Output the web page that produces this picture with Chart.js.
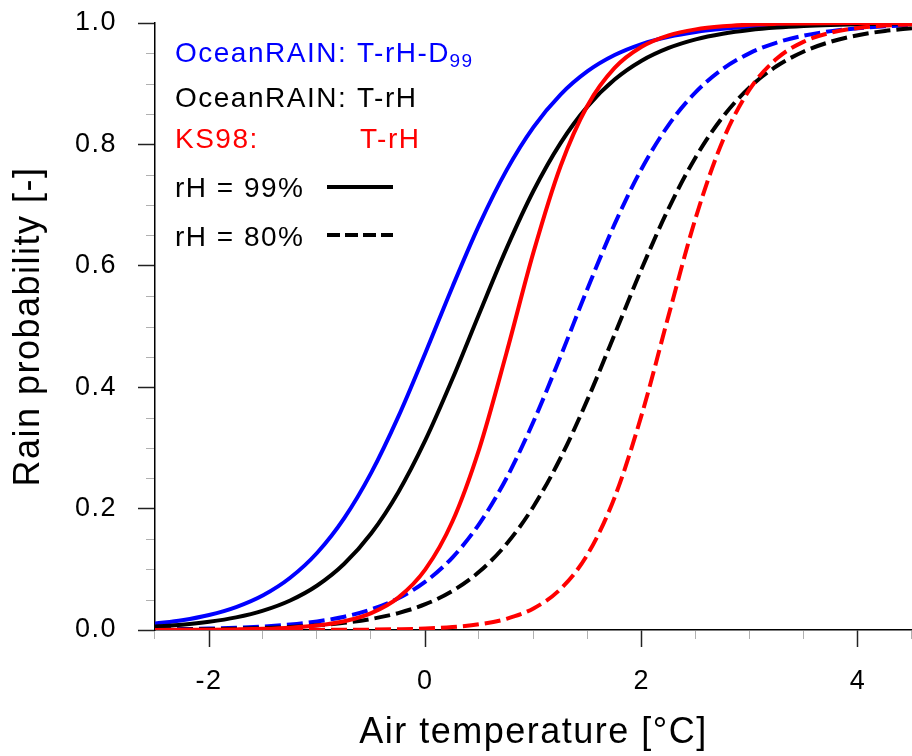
<!DOCTYPE html>
<html>
<head>
<meta charset="utf-8">
<script src="https://cdn.jsdelivr.net/npm/chart.js@4.4.1/dist/chart.umd.min.js"></script>
<style>
html,body{margin:0;padding:0;background:#fff;overflow:hidden}
canvas{display:block}
</style>
</head>
<body>
<canvas id="c" width="912" height="756"></canvas>
<script>
// ---- data ----
const temperature = [-2.5,-2.25,-2,-1.75,-1.5,-1.25,-1,-0.75,-0.5,-0.25,0,0.25,0.5,0.75,1,1.25,1.5,1.75,2,2.25,2.5,2.75,3,3.25,3.5,3.75,4,4.25,4.5];

const oceanRainTrhD99_rh99 = [0.0105,0.0161,0.0247,0.0378,0.0573,0.0861,0.1273,0.1843,0.2592,0.3515,0.4564,0.5652,0.6682,0.7572,0.8285,0.8821,0.9206,0.9472,0.9653,0.9773,0.9852,0.9904,0.9938,0.9960,0.9974,0.9983,0.9989,0.9993,0.9995];
const oceanRainTrhD99_rh80 = [0.0010,0.0015,0.0024,0.0037,0.0058,0.0090,0.0141,0.0219,0.0340,0.0523,0.0796,0.1194,0.1754,0.2501,0.3434,0.4507,0.5627,0.6686,0.7599,0.8323,0.8861,0.9243,0.9504,0.9678,0.9792,0.9866,0.9914,0.9945,0.9965];
const oceanRainTrh_rh99 = [0.0057,0.0088,0.0136,0.0208,0.0319,0.0486,0.0733,0.1091,0.1594,0.2271,0.3127,0.4134,0.5219,0.6283,0.7236,0.8022,0.8627,0.9068,0.9378,0.9589,0.9731,0.9824,0.9886,0.9926,0.9952,0.9969,0.9980,0.9987,0.9992];
const oceanRainTrh_rh80 = [0.0006,0.0009,0.0013,0.0021,0.0032,0.0050,0.0077,0.0118,0.0182,0.0279,0.0425,0.0643,0.0962,0.1416,0.2035,0.2834,0.3799,0.4869,0.5951,0.6948,0.7790,0.8452,0.8943,0.9291,0.9530,0.9692,0.9799,0.9869,0.9915];
const ks98Trh_rh99 = [0.0001,0.0003,0.0005,0.0010,0.0019,0.0038,0.0074,0.0144,0.0279,0.0534,0.0998,0.1787,0.2994,0.4564,0.6225,0.7641,0.8641,0.9259,0.9608,0.9797,0.9895,0.9946,0.9973,0.9986,0.9993,0.9996,0.9998,0.9999,0.9999];
const ks98Trh_rh80 = [0,0,0,0,0,0.0001,0.0002,0.0003,0.0006,0.0013,0.0025,0.0049,0.0095,0.0184,0.0356,0.0675,0.1246,0.2184,0.3543,0.5187,0.6792,0.8061,0.8909,0.9414,0.9693,0.9841,0.9918,0.9958,0.9979];

const xTickValues = [-2,0,2,4];
const yTickValues = [0,0.2,0.4,0.6,0.8,1.0];
const xMinorTickValues = [-2.5,-1.5,-1,-0.5,0.5,1,1.5,2.5,3,3.5,4.5];
const yMinorTickValues = [0.05,0.1,0.15,0.25,0.3,0.35,0.45,0.5,0.55,0.65,0.7,0.75,0.85,0.9,0.95];

const xAxisTitle = 'Air temperature [°C]';
const yAxisTitle = 'Rain probability [-]';

// ---- styling ----
const FONT = "'Liberation Sans', Arial, Helvetica, sans-serif";
const BLUE = '#0000ff', BLACK = '#000000', RED = '#ff0000';
const DASH = [16, 6];
const LW = 4;

Chart.defaults.font.family = FONT;
Chart.defaults.color = '#000';

function series(values, color, dashed) {
  return {
    data: temperature.map((t, i) => ({x: t, y: values[i]})),
    borderColor: color,
    borderWidth: LW,
    borderDash: dashed ? DASH : [],
    pointRadius: 0,
    fill: false,
    cubicInterpolationMode: 'monotone'
  };
}

const spacingPlugin = {
  id: 'spacing',
  beforeDraw(chart) { chart.ctx.letterSpacing = '1.5px'; }
};

const minorTicksPlugin = {
  id: 'minorTicks',
  afterDraw(chart) {
    const {ctx, chartArea: a} = chart;
    const xs = chart.scales.x, ys = chart.scales.y;
    ctx.save();
    ctx.strokeStyle = '#b0b0b0';
    ctx.lineWidth = 1;
    xMinorTickValues.forEach(v => {
      const px = Math.round(xs.getPixelForValue(v)) - 0.5;
      ctx.beginPath(); ctx.moveTo(px, a.bottom + 1); ctx.lineTo(px, a.bottom + 9); ctx.stroke();
    });
    yMinorTickValues.forEach(v => {
      const py = Math.round(ys.getPixelForValue(v)) + 0.5;
      ctx.beginPath(); ctx.moveTo(a.left - 1, py); ctx.lineTo(a.left - 9, py); ctx.stroke();
    });
    ctx.restore();
  }
};

const legendPlugin = {
  id: 'textLegend',
  afterDraw(chart) {
    const ctx = chart.ctx;
    ctx.save();
    ctx.letterSpacing = '1.5px';
    ctx.textBaseline = 'alphabetic';
    ctx.textAlign = 'left';
    ctx.font = '28px ' + FONT;
    const x0 = 175, x1 = 357;
    ctx.fillStyle = BLUE;
    ctx.fillText('OceanRAIN:', x0, 62);
    ctx.fillText('T-rH-D', x1, 62);
    const w = ctx.measureText('T-rH-D').width;
    ctx.font = '19px ' + FONT;
    ctx.fillText('99', x1 + w - 0.5, 67);
    ctx.font = '28px ' + FONT;
    ctx.fillStyle = BLACK;
    ctx.fillText('OceanRAIN:', x0, 107);
    ctx.fillText('T-rH', x1, 107);
    ctx.fillStyle = RED;
    ctx.fillText('KS98:', x0, 148);
    ctx.fillText('T-rH', x1 + 3, 148);
    ctx.fillStyle = BLACK;
    ctx.fillText('rH = 99%', x0, 197);
    ctx.fillText('rH = 80%', x0, 246);
    ctx.strokeStyle = BLACK;
    ctx.lineWidth = LW;
    ctx.beginPath(); ctx.moveTo(327, 187); ctx.lineTo(393, 187); ctx.stroke();
    ctx.setLineDash([13, 5]);
    ctx.beginPath(); ctx.moveTo(327, 235); ctx.lineTo(393, 235); ctx.stroke();
    ctx.restore();
  }
};

new Chart(document.getElementById('c'), {
  type: 'line',
  data: {
    datasets: [
      series(ks98Trh_rh99, RED, false),
      series(ks98Trh_rh80, RED, true),
      series(oceanRainTrh_rh99, BLACK, false),
      series(oceanRainTrh_rh80, BLACK, true),
      series(oceanRainTrhD99_rh99, BLUE, false),
      series(oceanRainTrhD99_rh80, BLUE, true)
    ]
  },
  options: {
    responsive: false,
    animation: false,
    devicePixelRatio: 1,
    layout: {padding: {top: 23, right: 0, left: 0, bottom: 0}},
    plugins: {legend: {display: false}, tooltip: {enabled: false}},
    scales: {
      x: {
        type: 'linear', position: 'bottom', min: -2.5, max: 4.5,
        afterBuildTicks: s => { s.ticks = xTickValues.map(v => ({value: v})); },
        afterFit: s => { s.height = 126; s.paddingLeft = 0; s.paddingRight = 0; },
        ticks: {callback: v => String(v), font: {size: 27}, color: '#000', padding: 18, maxRotation: 0, autoSkip: false},
        grid: {drawOnChartArea: false, drawTicks: true, tickLength: 17, tickColor: '#222', tickWidth: 1.5},
        border: {display: true, color: '#000', width: 1.5},
        title: {display: true, text: xAxisTitle, font: {size: 36, lineHeight: 1}, color: '#000', padding: {top: 0, bottom: 4.5}}
      },
      y: {
        type: 'linear', position: 'left', min: 0, max: 1,
        afterBuildTicks: s => { s.ticks = yTickValues.map(v => ({value: v})); },
        afterFit: s => { s.width = 155; s.paddingTop = 0; s.paddingBottom = 0; },
        ticks: {callback: v => v.toFixed(1), font: {size: 27}, color: '#000', padding: 21, autoSkip: false},
        grid: {drawOnChartArea: false, drawTicks: true, tickLength: 17, tickColor: '#222', tickWidth: 1.5},
        border: {display: true, color: '#000', width: 1.5},
        title: {display: true, text: yAxisTitle, font: {size: 36, lineHeight: 1}, color: '#000', padding: {top: 11.5, bottom: 0}}
      }
    }
  },
  plugins: [spacingPlugin, minorTicksPlugin, legendPlugin]
});
</script>
</body>
</html>
